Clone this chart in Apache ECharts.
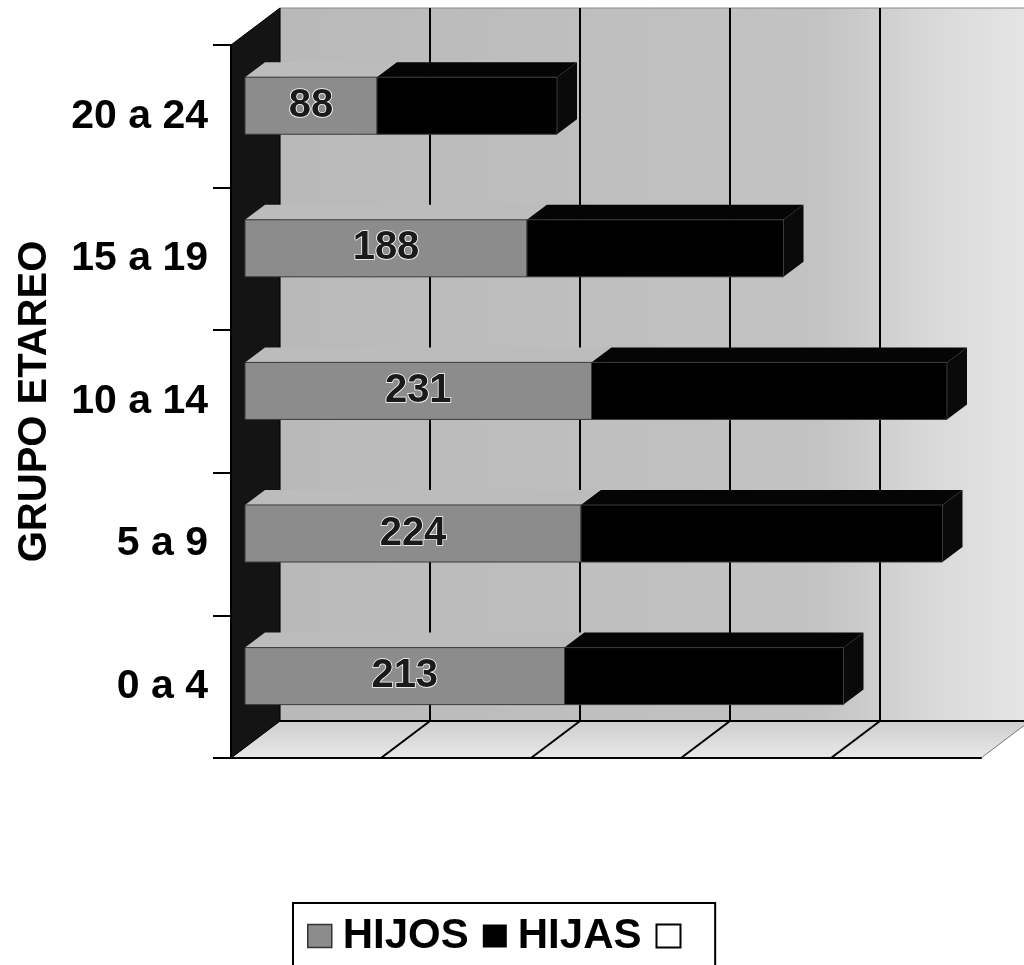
<!DOCTYPE html>
<html>
<head>
<meta charset="utf-8">
<title>Grupo etareo - hijos e hijas</title>
<script src="https://cdn.jsdelivr.net/npm/echarts@6/dist/echarts.min.js"></script>
<style>
  html, body { margin: 0; padding: 0; background: #fff; }
  #chart { width: 1024px; height: 965px; }
</style>
</head>
<body>
<div id="chart"></div>
<script>
// Age groups, listed bottom to top
const categories = ['0 a 4', '5 a 9', '10 a 14', '15 a 19', '20 a 24'];
const hijos = [213, 224, 231, 188, 88];
const hijas = [186, 241, 237, 171, 120];
const axisMax = 500;
const axisStep = 100;
const legendNames = ['HIJOS', 'HIJAS', ' '];

const FONT = '"Liberation Sans", Arial, sans-serif';

// Oblique projection of the depth axis (pixels per full depth)
const WALL_DEPTH = [49, -37];
const BAR_FRONT = [14, -10.6];
const BAR_DEPTH = [20, -15];

// Rows for the stacked custom series: [categoryIndex, start, end]
const hijosRows = categories.map((c, i) => [i, 0, hijos[i]]);
const hijasRows = categories.map((c, i) => [i, hijos[i], hijos[i] + hijas[i]]);

function frameItem(params, api) {
  const band = api.size([0, 1])[1];
  const xL = api.coord([0, 0])[0];
  const xR = api.coord([axisMax, 0])[0];
  const yB = api.coord([0, 0])[1] + band / 2;
  const yT = api.coord([0, categories.length - 1])[1] - band / 2;
  const dx = WALL_DEPTH[0], dy = WALL_DEPTH[1];
  const kids = [];
  // back wall
  kids.push({
    type: 'rect',
    shape: { x: xL + dx, y: yT + dy, width: xR - xL, height: yB - yT },
    style: {
      fill: new echarts.graphic.LinearGradient(0, 0, 1, 0, [
        { offset: 0, color: '#b9b9b9' },
        { offset: 0.72, color: '#c3c3c3' },
        { offset: 0.86, color: '#d8d8d8' },
        { offset: 1, color: '#e6e6e6' }
      ]),
      stroke: '#888', lineWidth: 1
    }
  });
  // floor
  kids.push({
    type: 'polygon',
    shape: { points: [[xL, yB], [xR, yB], [xR + dx, yB + dy], [xL + dx, yB + dy]] },
    style: {
      fill: new echarts.graphic.LinearGradient(0, 0, 0, 1, [
        { offset: 0, color: '#cdcdcd' },
        { offset: 1, color: '#e9e9e9' }
      ]),
      stroke: '#777', lineWidth: 1
    }
  });
  // grid lines on the back wall and across the floor
  for (let v = axisStep; v < axisMax; v += axisStep) {
    const x = api.coord([v, 0])[0];
    kids.push({
      type: 'line',
      shape: { x1: x + dx, y1: yT + dy, x2: x + dx, y2: yB + dy },
      style: { stroke: '#000', lineWidth: 2 }
    });
    kids.push({
      type: 'line',
      shape: { x1: x + dx, y1: yB + dy, x2: x, y2: yB },
      style: { stroke: '#000', lineWidth: 2 }
    });
  }
  // floor / back wall seam
  kids.push({
    type: 'line',
    shape: { x1: xL + dx, y1: yB + dy, x2: xR + dx, y2: yB + dy },
    style: { stroke: '#000', lineWidth: 2 }
  });
  // dark side wall
  kids.push({
    type: 'polygon',
    shape: { points: [[xL, yT], [xL + dx, yT + dy], [xL + dx, yB + dy], [xL, yB]] },
    style: { fill: '#141414', stroke: '#000', lineWidth: 1 }
  });
  return { type: 'group', children: kids };
}

function barItemFactory(front, top, side, withLabel) {
  return function (params, api) {
    const cat = api.value(0);
    const p0 = api.coord([api.value(1), cat]);
    const p1 = api.coord([api.value(2), cat]);
    const band = api.size([0, 1])[1];
    const h = band * 0.4;
    const x0 = p0[0] + BAR_FRONT[0];
    const x1 = p1[0] + BAR_FRONT[0];
    const y0 = p0[1] + BAR_FRONT[1] - h / 2;
    const dx = BAR_DEPTH[0], dy = BAR_DEPTH[1];
    const kids = [
      {
        type: 'polygon',
        shape: { points: [[x0, y0], [x1, y0], [x1 + dx, y0 + dy], [x0 + dx, y0 + dy]] },
        style: { fill: top }
      },
      {
        type: 'polygon',
        shape: { points: [[x1, y0], [x1, y0 + h], [x1 + dx, y0 + h + dy], [x1 + dx, y0 + dy]] },
        style: { fill: side }
      },
      {
        type: 'rect',
        shape: { x: x0, y: y0, width: x1 - x0, height: h },
        style: { fill: front, stroke: '#3a3a3a', lineWidth: 1 }
      }
    ];
    if (withLabel) {
      kids.push({
        type: 'text',
        style: {
          x: (x0 + x1) / 2, y: y0 + h / 2,
          text: String(api.value(2) - api.value(1)),
          align: 'center', verticalAlign: 'middle',
          font: 'bold 40px ' + FONT,
          fill: '#1a1a1a', stroke: '#ffffff', lineWidth: 1.5
        }
      });
    }
    return { type: 'group', children: kids };
  };
}

const chart = echarts.init(document.getElementById('chart'), null, { renderer: 'canvas' });

chart.setOption({
  backgroundColor: '#ffffff',
  animation: false,
  grid: { left: 231, right: 43, top: 45, bottom: 207, containLabel: false },
  xAxis: {
    type: 'value', min: 0, max: axisMax, interval: axisStep,
    z: 5,
    axisLine: { show: true, lineStyle: { color: '#000', width: 2 } },
    axisTick: { show: false },
    axisLabel: { show: false },
    splitLine: { show: false }
  },
  yAxis: {
    type: 'category', data: categories,
    z: 5,
    name: 'GRUPO ETAREO',
    nameLocation: 'middle',
    nameRotate: 90,
    nameGap: 176,
    nameTextStyle: { fontFamily: FONT, fontWeight: 'bold', fontSize: 40, color: '#000' },
    axisLine: { show: true, lineStyle: { color: '#000', width: 2 } },
    axisTick: { show: true, inside: false, length: 18, lineStyle: { color: '#000', width: 2 } },
    axisLabel: { fontFamily: FONT, fontWeight: 'bold', fontSize: 41, color: '#000', margin: 23 },
    splitLine: { show: false }
  },
  legend: {
    data: [
      { name: legendNames[0], itemStyle: { color: '#8c8c8c', borderColor: '#333', borderWidth: 1.5 } },
      { name: legendNames[1], itemStyle: { color: '#000000' } },
      { name: legendNames[2], itemStyle: { color: '#ffffff', borderColor: '#000', borderWidth: 2 } }
    ],
    left: 293, top: 903,
    orient: 'horizontal',
    icon: 'rect',
    itemWidth: 24, itemHeight: 23, itemGap: 14,
    padding: [12, 12, 14, 14],
    borderColor: '#000', borderWidth: 2,
    backgroundColor: '#fff',
    selectedMode: false,
    textStyle: { fontFamily: FONT, fontWeight: 'bold', fontSize: 42, color: '#000', padding: [0, 0, 0, 6] }
  },
  series: [
    {
      type: 'custom', name: 'frame', z: 1, silent: true,
      data: [[0, 0, 0]],
      encode: { y: 0, x: 1 },
      renderItem: frameItem
    },
    {
      type: 'custom', name: legendNames[0], z: 3,
      itemStyle: { color: '#8c8c8c' },
      data: hijosRows,
      encode: { y: 0, x: [1, 2] },
      renderItem: barItemFactory('#8c8c8c', '#bcbcbc', '#6a6a6a', true)
    },
    {
      type: 'custom', name: legendNames[1], z: 4,
      itemStyle: { color: '#000000' },
      data: hijasRows,
      encode: { y: 0, x: [1, 2] },
      renderItem: barItemFactory('#000000', '#050505', '#0a0a0a', false)
    },
    {
      type: 'custom', name: legendNames[2], z: 4,
      itemStyle: { color: '#ffffff' },
      data: [],
      renderItem: function () { return null; }
    }
  ]
});
</script>
</body>
</html>
